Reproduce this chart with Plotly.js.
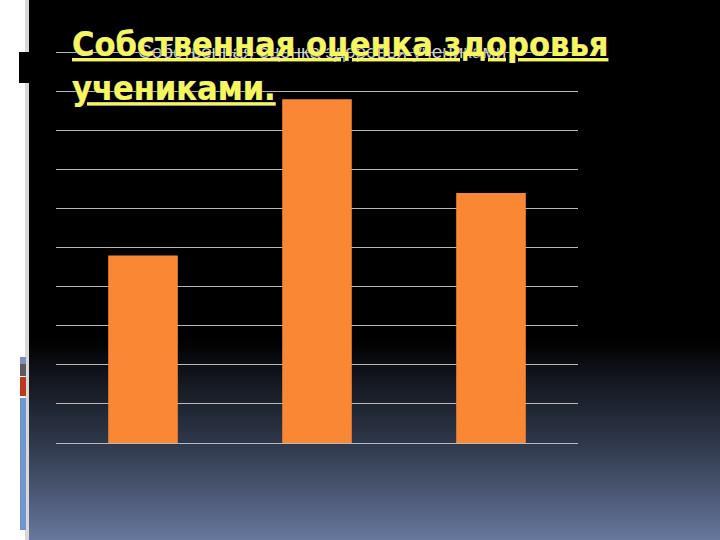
<!DOCTYPE html>
<html>
<head>
<meta charset="utf-8">
<script src="https://cdn.plot.ly/plotly-3.0.1.min.js"></script>
<style>
  html, body { margin:0; padding:0; width:720px; height:540px; overflow:hidden; background:#ffffff; }
  #slide { position:absolute; left:29px; top:0; width:691px; height:540px;
    background: linear-gradient(to bottom, #000000 0%, #000000 63%, #12161e 70%, #2f384a 82%, #4a5672 91%, #66789e 100%); }
  #edge { position:absolute; left:25px; top:0; width:4px; height:540px; background:#d8d8d8; }
  #blk { position:absolute; left:17px; top:52px; width:10px; height:31px; background:#000; border-left:2px solid #fff; }
  .seg { position:absolute; left:20px; width:6px; }
  #chart { position:absolute; left:0; top:0; width:720px; height:540px; }
</style>
</head>
<body>
<div id="slide"></div>
<div id="edge"></div>
<div id="blk"></div>
<div class="seg" style="top:357px;height:7px;background:#7f8fc0;"></div>
<div class="seg" style="top:364px;height:12px;background:#5a5a60;"></div>
<div class="seg" style="top:377px;height:19px;background:#c0381c;"></div>
<div class="seg" style="top:398px;height:132px;background:#7096d0;"></div>
<div id="chart"></div>
<script>
const categories = ['Категория 1', 'Категория 2', 'Категория 3'];
const values = [24, 44, 32];
const chartTitle = 'Собственная оценка здоровья учениками';
const slideTitle = 'Собственная оценка здоровья<br>учениками.';

const trace = {
  type: 'bar',
  x: categories,
  y: values,
  marker: { color: '#fa8733', line: { width: 0 } },
  hoverinfo: 'skip'
};

const layout = {
  width: 720, height: 540,
  margin: { l: 56, r: 142, t: 50, b: 97 },
  paper_bgcolor: 'rgba(0,0,0,0)',
  plot_bgcolor: 'rgba(0,0,0,0)',
  bargap: 0.6,
  showlegend: false,
  xaxis: {
    showticklabels: false, ticks: '', showgrid: false, zeroline: false,
    showline: false, fixedrange: true
  },
  yaxis: {
    range: [0, 50.3], tick0: 0, dtick: 5, showticklabels: false, ticks: '',
    showgrid: true, gridcolor: '#b8b8b8', gridwidth: 1,
    zeroline: true, zerolinecolor: '#b8b8b8', zerolinewidth: 1,
    showline: false, fixedrange: true
  },
  annotations: [{
    text: chartTitle,
    xref: 'paper', yref: 'paper',
    x: (322 - 56) / 522, y: (443 - 64) / 393,
    xanchor: 'center', yanchor: 'bottom',
    showarrow: false,
    font: { family: 'Liberation Sans, Arial, sans-serif', size: 19, color: '#d0d0d0' }
  }, {
    text: slideTitle,
    xref: 'paper', yref: 'paper',
    x: (70 - 56) / 522, y: (443 - 22) / 393,
    xanchor: 'left', yanchor: 'top', align: 'left',
    showarrow: false,
    font: { family: 'DejaVu Sans Condensed, DejaVu Sans, sans-serif', size: 34, weight: 'bold',
            color: '#f7f75c', lineposition: 'under', shadow: '0 0 1px #1c1c78' }
  }]
};

Plotly.newPlot('chart', [trace], layout, { staticPlot: true, displayModeBar: false });
</script>
</body>
</html>
